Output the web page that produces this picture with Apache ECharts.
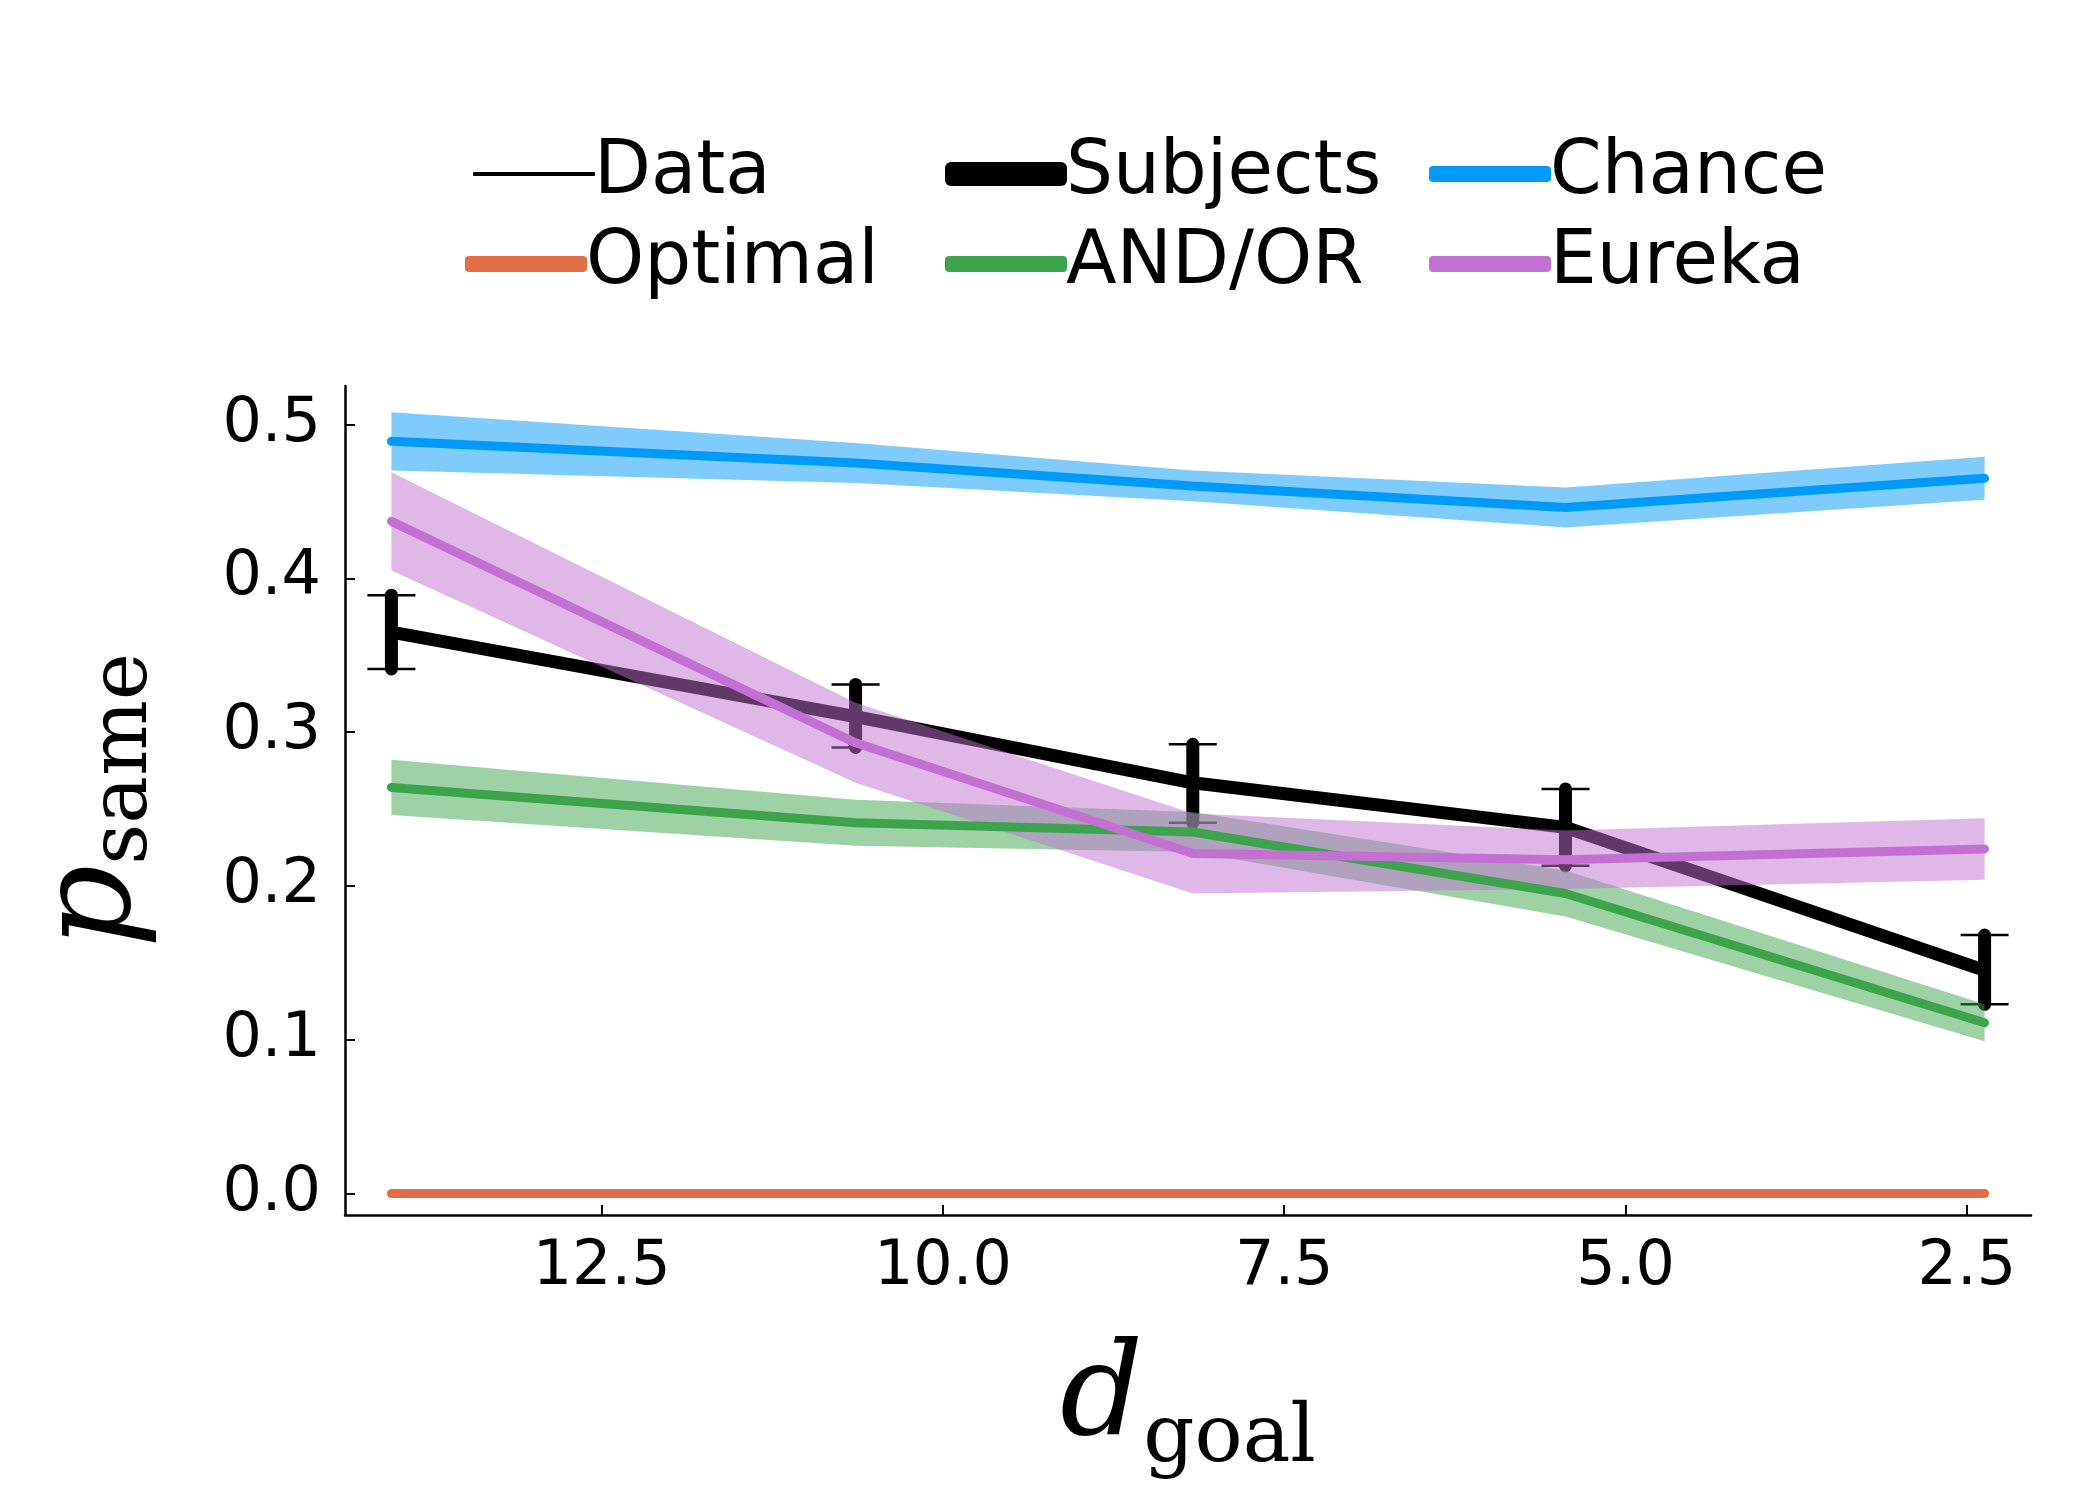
<!DOCTYPE html>
<html>
<head>
<meta charset="utf-8">
<title>p_same vs d_goal</title>
<script src="https://cdn.jsdelivr.net/npm/echarts@6/dist/echarts.min.js"></script>
</head>
<body style="margin:0">
<div id="main" style="width:2100px;height:1500px;"></div>
<script type="text/javascript">
var dGoal = [14.04, 10.64, 8.17, 5.44, 2.37];
var xTicks = [12.5, 10.0, 7.5, 5.0, 2.5];
var yTicks = [0, 0.1, 0.2, 0.3, 0.4, 0.5];

var subjects = [0.365, 0.310, 0.267, 0.238, 0.145];
var subjectsLo = [0.341, 0.290, 0.241, 0.213, 0.123];
var subjectsHi = [0.389, 0.331, 0.292, 0.263, 0.168];

var chance = [0.489, 0.475, 0.460, 0.446, 0.465];
var chanceErr = [0.019, 0.013, 0.010, 0.013, 0.014];
var optimal = [0, 0, 0, 0, 0];
var andOr = [0.264, 0.241, 0.235, 0.195, 0.111];
var andOrErr = [0.018, 0.015, 0.013, 0.015, 0.012];
var eureka = [0.437, 0.293, 0.221, 0.217, 0.224];
var eurekaErr = [0.032, 0.026, 0.026, 0.019, 0.020];

var cChance = '#009AFA', cOpt = '#E26F46', cAnd = '#3DA44D', cEur = '#C271D2';

function pts(arr) { return dGoal.map(function (x, i) { return [x, arr[i]]; }); }

// ribbon drawn as one polygon through the axis scales
function band(name, mid, err, color) {
  return {
    name: name + '_band', type: 'custom', z: 3, silent: true,
    data: dGoal.map(function (x, i) { return [x, mid[i] - err[i], mid[i] + err[i]]; }),
    renderItem: function (params, api) {
      if (params.dataIndex !== 0) return;
      var up = [], lo = [];
      for (var i = 0; i < dGoal.length; i++) {
        up.push(api.coord([dGoal[i], mid[i] + err[i]]));
        lo.unshift(api.coord([dGoal[i], mid[i] - err[i]]));
      }
      return { type: 'polygon', shape: { points: up.concat(lo) }, style: { fill: color, opacity: 0.5 } };
    }
  };
}
function line(name, arr, color, w, z) {
  return { name: name, type: 'line', data: pts(arr), symbol: 'none', z: z || 4,
    itemStyle: { color: color }, lineStyle: { color: color, width: w, cap: 'round' } };
}

var series = [];
series.push(line('Subjects', subjects, '#000', 13, 2));
series.push({
  name: 'err', type: 'custom', z: 2, data: dGoal.map(function (x, i) { return [x, subjectsLo[i], subjectsHi[i]]; }),
  renderItem: function (params, api) {
    var lo = api.coord([api.value(0), api.value(1)]);
    var hi = api.coord([api.value(0), api.value(2)]);
    var h = 24;
    return { type: 'group', children: [
      { type: 'line', shape: { x1: lo[0], y1: lo[1], x2: hi[0], y2: hi[1] }, style: { stroke: '#000', lineWidth: 13, lineCap: 'round' } },
      { type: 'line', shape: { x1: hi[0] - h, y1: hi[1], x2: hi[0] + h, y2: hi[1] }, style: { stroke: '#000', lineWidth: 2.5 } },
      { type: 'line', shape: { x1: lo[0] - h, y1: lo[1], x2: lo[0] + h, y2: lo[1] }, style: { stroke: '#000', lineWidth: 2.5 } }
    ] };
  }
});
series.push(band('Chance', chance, chanceErr, cChance));
series.push(band('AND/OR', andOr, andOrErr, cAnd));
series.push(band('Eureka', eureka, eurekaErr, cEur));
series.push(line('Chance', chance, cChance, 9));
series.push(line('Optimal', optimal, cOpt, 9));
series.push(line('AND/OR', andOr, cAnd, 9));
series.push(line('Eureka', eureka, cEur, 9));
series.push({ name: 'Data', type: 'line', data: [], symbol: 'none', itemStyle: { color: '#000' }, lineStyle: { color: '#000', width: 4 } });

var font = 'DejaVu Sans';
function leg(name, left, top, h) {
  return { data: [name], left: left, top: top, itemWidth: 122, itemHeight: h, icon: 'roundRect', itemGap: 0,
    textStyle: { fontSize: 74, fontFamily: font, color: '#000', padding: [0, 0, 0, -6] } };
}

var myChart = echarts.init(document.getElementById('main'));
myChart.setOption({
  animation: false,
  backgroundColor: '#fff',
  legend: [
    leg('Data', 468, 132, 4), leg('Subjects', 940, 132, 24), leg('Chance', 1424, 132, 16),
    leg('Optimal', 460, 222, 16), leg('AND/OR', 940, 222, 16), leg('Eureka', 1424, 222, 16)
  ],
  grid: { left: 345, right: 69, top: 386, bottom: 285 },
  xAxis: {
    type: 'value', inverse: true, min: 2.03, max: 14.38,
    name: '{a|d}{b|goal}', nameLocation: 'middle', nameGap: 105,
    nameTextStyle: { rich: {
      a: { fontFamily: 'DejaVu Serif', fontStyle: 'italic', fontSize: 130, color: '#000' },
      b: { fontFamily: 'DejaVu Serif', fontSize: 80, color: '#000', padding: [80, 0, 0, 0] } } },
    axisLine: { onZero: false, lineStyle: { color: '#000', width: 2.5 } },
    axisTick: { customValues: xTicks, inside: true, length: 10, lineStyle: { color: '#000', width: 2 } },
    axisLabel: { customValues: xTicks, fontSize: 62, fontFamily: font, color: '#000', margin: 22,
      formatter: function (v) { return v.toFixed(1); } },
    splitLine: { show: false }
  },
  yAxis: {
    type: 'value', min: -0.014, max: 0.525,
    name: '{a|p}{b|same}', nameLocation: 'middle', nameGap: 180, nameRotate: 90,
    nameTextStyle: { rich: {
      a: { fontFamily: 'DejaVu Serif', fontStyle: 'italic', fontSize: 130, color: '#000' },
      b: { fontFamily: 'DejaVu Serif', fontSize: 80, color: '#000', padding: [60, 0, 0, 0] } } },
    axisLine: { show: true, onZero: false, lineStyle: { color: '#000', width: 2.5 } },
    axisTick: { show: true, customValues: yTicks, inside: true, length: 10, lineStyle: { color: '#000', width: 2 } },
    axisLabel: { customValues: yTicks, fontSize: 62, fontFamily: font, color: '#000', margin: 24,
      formatter: function (v) { return v.toFixed(1); } },
    splitLine: { show: false }
  },
  series: series
});
</script>
</body>
</html>
